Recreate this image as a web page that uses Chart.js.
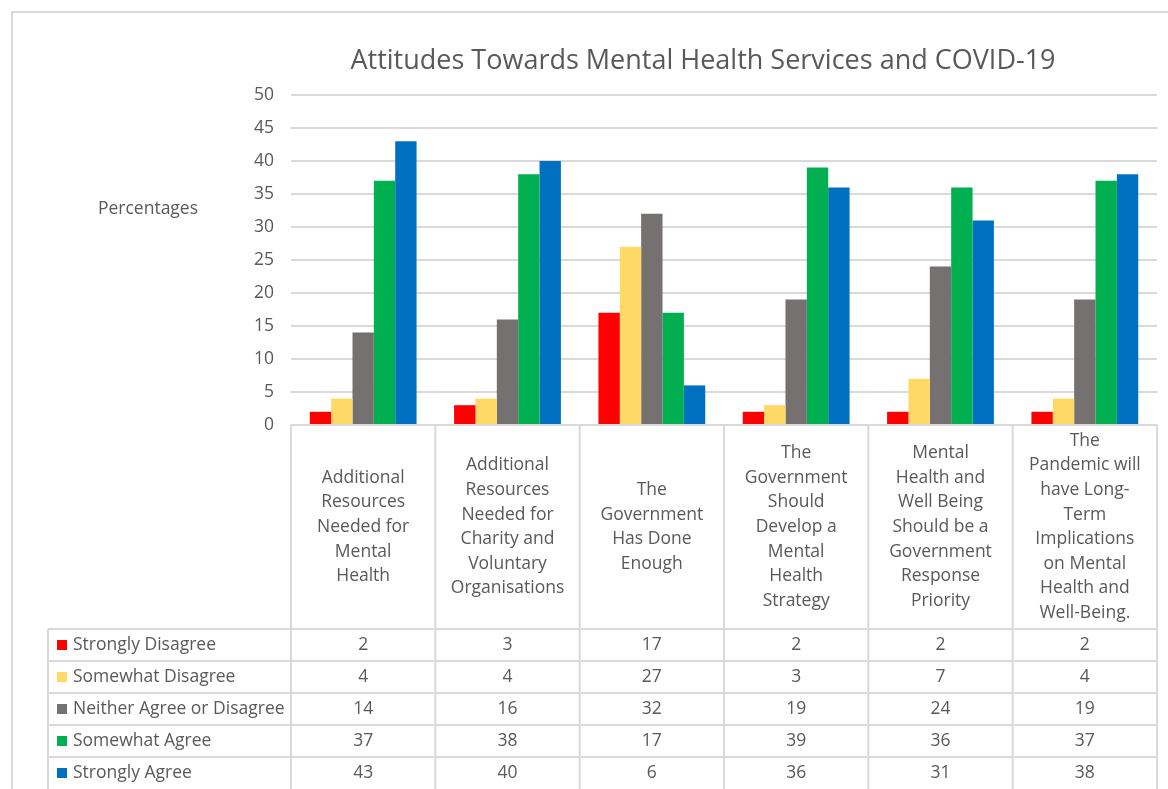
<!DOCTYPE html>
<html>
<head>
<meta charset="utf-8">
<script src="https://cdn.jsdelivr.net/npm/chart.js@4.4.1/dist/chart.umd.min.js"></script>
<style>
  body { margin: 0; background: #fff; }
  canvas { display: block; }
</style>
</head>
<body>
<canvas id="myChart" width="1168" height="789"></canvas>
<script>
// statements, already split into the lines shown in the table header
var statements = [
    ["Additional", "Resources", "Needed for", "Mental", "Health"],
    ["Additional", "Resources", "Needed for", "Charity and", "Voluntary", "Organisations"],
    ["The", "Government", "Has Done", "Enough"],
    ["The", "Government", "Should", "Develop a", "Mental", "Health", "Strategy"],
    ["Mental", "Health and", "Well Being", "Should be a", "Government", "Response", "Priority"],
    ["The", "Pandemic will", "have Long-", "Term", "Implications", "on Mental", "Health and", "Well-Being."]
];
var responses = ["Strongly Disagree", "Somewhat Disagree", "Neither Agree or Disagree", "Somewhat Agree", "Strongly Agree"];
var colors = ["#ff0000", "#ffd966", "#767171", "#00b050", "#0070c0"];

var stronglyDisagree = [2, 3, 17, 2, 2, 2];
var somewhatDisagree = [4, 4, 27, 3, 7, 4];
var neitherAgree = [14, 16, 32, 19, 24, 19];
var somewhatAgree = [37, 38, 17, 39, 36, 37];
var stronglyAgree = [43, 40, 6, 36, 31, 38];

var yTicks = [0, 5, 10, 15, 20, 25, 30, 35, 40, 45, 50];

var title = "Attitudes Towards Mental Health Services and COVID-19";
var axisTitle = "Percentages";

var seriesValues = [stronglyDisagree, somewhatDisagree, neitherAgree, somewhatAgree, stronglyAgree];
var textColor = "#595959";
var lineColor = "#d9d9d9";
var fontName = "'Open Sans', sans-serif";
var bodySize = 17.5;

// frame, titles and the data table under the plot
var tablePlugin = {
    id: "dataTable",
    afterDraw: function (chart) {
        var ctx = chart.ctx;
        var area = chart.chartArea;
        var x = chart.scales.x;
        var colW = x.getPixelForValue(1) - x.getPixelForValue(0);
        var headerBottom = 629;
        var rowH = 32;
        var legendLeft = 48;
        var bottom = chart.height + 2;

        ctx.save();
        ctx.strokeStyle = lineColor;
        ctx.lineWidth = 2;
        // outer frame
        ctx.beginPath();
        ctx.moveTo(12, bottom);
        ctx.lineTo(12, 12);
        ctx.lineTo(chart.width + 2, 12);
        ctx.stroke();

        // table grid
        ctx.beginPath();
        ctx.moveTo(area.left, area.bottom);
        ctx.lineTo(area.right, area.bottom);
        for (let r = 0; r < responses.length; r++) {
            let y = headerBottom + r * rowH;
            ctx.moveTo(legendLeft, y);
            ctx.lineTo(area.right, y);
        }
        ctx.moveTo(legendLeft, headerBottom);
        ctx.lineTo(legendLeft, bottom);
        for (let i = 0; i <= statements.length; i++) {
            let bx = area.left + i * colW;
            ctx.moveTo(bx, area.bottom);
            ctx.lineTo(bx, bottom);
        }
        ctx.stroke();

        ctx.fillStyle = textColor;
        ctx.textBaseline = "middle";

        // chart title
        ctx.textAlign = "center";
        ctx.font = "27px " + fontName;
        ctx.fillText(title, 703, 61);

        // horizontal axis title
        ctx.font = bodySize + "px " + fontName;
        ctx.fillText(axisTitle, 148, 209);

        // header cells
        var headerMid = (area.bottom + headerBottom) / 2;
        var lineH = 24.6;
        for (let i = 0; i < statements.length; i++) {
            let cx = x.getPixelForValue(i);
            let lines = statements[i];
            let y0 = headerMid - (lines.length - 1) * lineH / 2;
            for (let k = 0; k < lines.length; k++) {
                ctx.fillText(lines[k], cx, y0 + k * lineH);
            }
        }

        // legend keys and values
        for (let r = 0; r < responses.length; r++) {
            let cy = headerBottom + r * rowH + rowH / 2;
            ctx.fillStyle = colors[r];
            ctx.fillRect(57, cy - 5, 10, 10);
            ctx.fillStyle = textColor;
            ctx.textAlign = "left";
            ctx.fillText(responses[r], 73, cy);
            ctx.textAlign = "center";
            for (let i = 0; i < statements.length; i++) {
                ctx.fillText(String(seriesValues[r][i]), x.getPixelForValue(i), cy);
            }
        }
        ctx.restore();
    }
};

var ctx = document.getElementById("myChart").getContext("2d");
var chart = new Chart(ctx, {
    type: "bar",
    data: {
        labels: statements,
        datasets: responses.map(function (name, r) {
            return {
                label: name,
                data: seriesValues[r],
                backgroundColor: colors[r],
                borderWidth: 0
            };
        })
    },
    options: {
        responsive: false,
        animation: false,
        layout: {
            padding: { left: 241, right: 11, top: 95, bottom: 364 }
        },
        datasets: {
            bar: { barPercentage: 1, categoryPercentage: 0.74 }
        },
        plugins: {
            legend: { display: false },
            tooltip: { enabled: false }
        },
        scales: {
            x: { display: false, offset: true },
            y: {
                min: 0,
                max: 50,
                afterFit: function (scale) { scale.width = 50; },
                afterBuildTicks: function (scale) {
                    scale.ticks = yTicks.map(function (v) { return { value: v }; });
                },
                ticks: { color: textColor, font: { family: fontName, size: bodySize }, padding: 17 },
                grid: { color: lineColor, lineWidth: 2, drawTicks: false },
                border: { display: false }
            }
        }
    },
    plugins: [tablePlugin]
});
</script>
</body>
</html>
